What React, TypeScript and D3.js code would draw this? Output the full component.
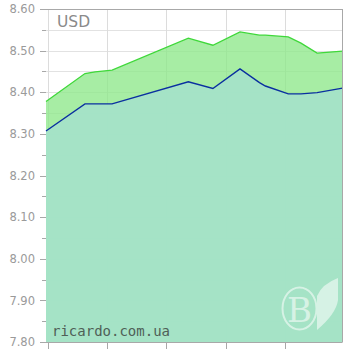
import React from "react";
import * as d3 from "d3";

// data: x = day index, values = rates
const days = [-0.2, 4.4, 5.6, 7.6, 16.6, 19.5, 22.7, 25.0, 25.7, 28.4, 29.9, 31.8, 34.8];
const sellValues = [8.378, 8.445, 8.449, 8.453, 8.530, 8.513, 8.545, 8.537, 8.537, 8.533, 8.518, 8.494, 8.499];
const buyValues = [8.307, 8.372, 8.372, 8.372, 8.425, 8.409, 8.456, 8.423, 8.415, 8.396, 8.396, 8.399, 8.410];
const yTicks = [7.8, 7.9, 8.0, 8.1, 8.2, 8.3, 8.4, 8.5, 8.6];
const yMinorTicks = [7.85, 7.95, 8.05, 8.15, 8.25, 8.35, 8.45, 8.55];
const xTicks = [0, 7, 14, 21, 28];
const currency = "USD";
const credit = "ricardo.com.ua";

const W = 350, H = 350;
const L = 46, R = 342.5, T = 9, B = 342;

export default function App() {
  const x = d3.scaleLinear().domain([-0.2, 34.8]).range([L, R]);
  const y = d3.scaleLinear().domain([7.8, 8.6]).range([B, T]);
  const sell = days.map((d, i) => ({ d, v: sellValues[i] }));
  const buy = days.map((d, i) => ({ d, v: buyValues[i] }));
  const area = d3.area<{ d: number; v: number }>().x(p => x(p.d)).y0(B).y1(p => y(p.v));
  const line = d3.line<{ d: number; v: number }>().x(p => x(p.d)).y(p => y(p.v));
  const font = "'DejaVu Sans', Verdana, sans-serif";
  return (
    <svg width={W} height={H} style={{ position: "absolute", left: 0, top: 0, background: "#fff" }}>
      {/* grid */}
      {[...yTicks, ...yMinorTicks].map(t => (
        <line key={"gy" + t} x1={L} x2={R} y1={Math.round(y(t)) + 0.5} y2={Math.round(y(t)) + 0.5} stroke="#e2e2e2" />
      ))}
      {xTicks.map(t => (
        <line key={"gx" + t} x1={Math.round(x(t)) + 0.5} x2={Math.round(x(t)) + 0.5} y1={T} y2={B} stroke="#dcdcdc" />
      ))}
      {/* areas */}
      <path d={area(sell) || ""} fill="#8ee88a" fillOpacity={0.78} />
      <path d={area(buy) || ""} fill="#a4e3c8" fillOpacity={0.95} />
      <path d={line(sell) || ""} fill="none" stroke="#3fd83a" strokeWidth={1.3} />
      <path d={line(buy) || ""} fill="none" stroke="#0a2fa0" strokeWidth={1.4} />
      {/* frame */}
      <line x1={L - 6} x2={R} y1={T + 0.5} y2={T + 0.5} stroke="#a8a8a8" />
      <line x1={R} x2={R} y1={T} y2={B} stroke="#a8a8a8" />
      <line x1={L - 6} x2={R} y1={B + 0.5} y2={B + 0.5} stroke="#a8a8a8" />
      {/* y ticks */}
      {yTicks.map(t => (
        <g key={"yt" + t}>
          <line x1={L - 6} x2={L} y1={Math.round(y(t)) + 0.5} y2={Math.round(y(t)) + 0.5} stroke="#a8a8a8" />
          <text x={L - 11} y={y(t)} dy="0.36em" textAnchor="end" fontFamily={font} fontSize={11.5} fill="#9a9a9a">
            {t.toFixed(2)}
          </text>
        </g>
      ))}
      {yMinorTicks.map(t => (
        <line key={"ym" + t} x1={L - 4} x2={L} y1={Math.round(y(t)) + 0.5} y2={Math.round(y(t)) + 0.5} stroke="#a8a8a8" />
      ))}
      {xTicks.map(t => (
        <line key={"xt" + t} x1={Math.round(x(t)) + 0.5} x2={Math.round(x(t)) + 0.5} y1={B} y2={B + 7} stroke="#a8a8a8" />
      ))}
      {/* watermark */}
      <g opacity={0.55}>
        <ellipse cx={299.5} cy={308.5} rx={17} ry={21} fill="none" stroke="#ffffff" strokeWidth={2} />
        <text x={299.5} y={322} textAnchor="middle" fontFamily="'DejaVu Serif', serif" fontSize={34} fill="#ffffff">B</text>
        <path d="M317,316 L317,296 Q322,284 338,278 L338,300 Q336,314 317,330 Z" fill="#ffffff" />
      </g>
      <text x={57} y={27} fontFamily={font} fontSize={15.5} fill="#8a8a8a">{currency}</text>
      <text x={52} y={336} fontFamily="'DejaVu Sans Mono', monospace" fontSize={14} fill="#4f5f57">{credit}</text>
    </svg>
  );
}
